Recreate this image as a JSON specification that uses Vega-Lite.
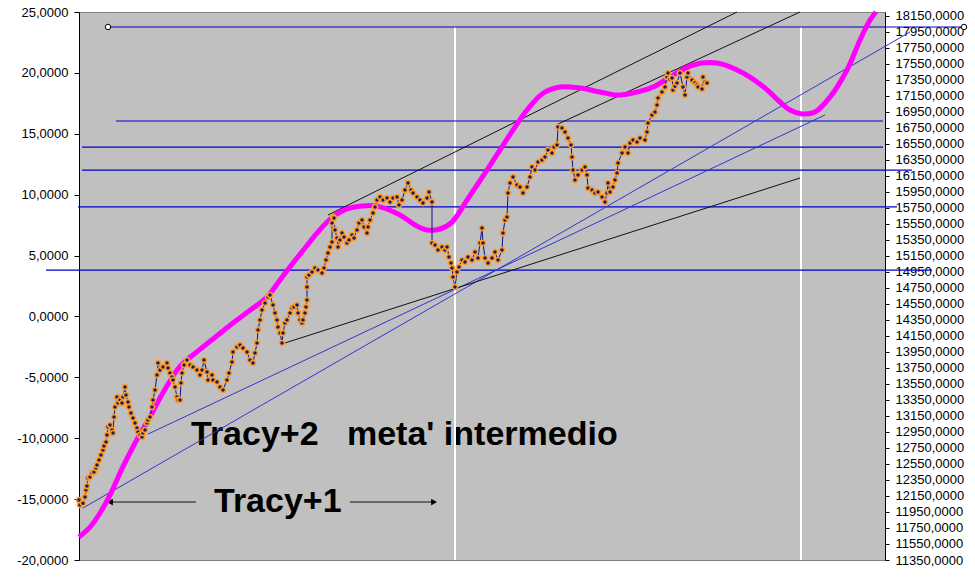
{
"$schema": "https://vega.github.io/schema/vega-lite/v6.json",
"width": 806, "height": 548,
"autosize": {"type": "none"},
"padding": {"left": 79, "top": 12, "right": 90, "bottom": 22},
"background": "white",
"config": {"view": {"fill": "#c0c0c0", "stroke": "#808080", "strokeWidth": 1}},
"datasets": {
"series": [
{"i":0,"t":0,"v":-15.08},{"i":1,"t":1,"v":-15.49},{"i":2,"t":4,"v":-15.33},{"i":3,"t":6,"v":-14.83},{"i":4,"t":7,"v":-14.25},{"i":5,"t":8,"v":-13.93},{"i":6,"t":9,"v":-13.27},{"i":7,"t":11,"v":-13.19},{"i":8,"t":13,"v":-12.86},{"i":9,"t":15,"v":-12.78},{"i":10,"t":17,"v":-12.45},{"i":11,"t":18,"v":-12.2},{"i":12,"t":20,"v":-11.79},{"i":13,"t":22,"v":-11.38},{"i":14,"t":24,"v":-10.97},{"i":15,"t":25,"v":-10.64},{"i":16,"t":27,"v":-10.31},{"i":17,"t":28,"v":-9.74},{"i":18,"t":29,"v":-9.08},{"i":19,"t":31,"v":-8.92},{"i":20,"t":33,"v":-9.33},{"i":21,"t":34,"v":-9.57},{"i":22,"t":35,"v":-8.26},{"i":23,"t":36,"v":-7.44},{"i":24,"t":38,"v":-6.62},{"i":25,"t":39,"v":-7.11},{"i":26,"t":41,"v":-6.86},{"i":27,"t":43,"v":-7.11},{"i":28,"t":44,"v":-6.62},{"i":29,"t":46,"v":-5.8},{"i":30,"t":47,"v":-6.45},{"i":31,"t":49,"v":-7.03},{"i":32,"t":50,"v":-7.44},{"i":33,"t":52,"v":-7.93},{"i":34,"t":54,"v":-8.34},{"i":35,"t":56,"v":-8.75},{"i":36,"t":58,"v":-9.16},{"i":37,"t":59,"v":-9.49},{"i":38,"t":61,"v":-9.74},{"i":39,"t":63,"v":-9.9},{"i":40,"t":64,"v":-9.57},{"i":41,"t":66,"v":-9.33},{"i":42,"t":68,"v":-8.75},{"i":43,"t":69,"v":-8.5},{"i":44,"t":71,"v":-8.26},{"i":45,"t":73,"v":-7.44},{"i":46,"t":74,"v":-6.86},{"i":47,"t":76,"v":-6.04},{"i":48,"t":78,"v":-4.81},{"i":49,"t":79,"v":-3.82},{"i":50,"t":81,"v":-4.4},{"i":51,"t":84,"v":-4.15},{"i":52,"t":88,"v":-3.82},{"i":53,"t":89,"v":-4.23},{"i":54,"t":91,"v":-4.64},{"i":55,"t":93,"v":-4.97},{"i":56,"t":94,"v":-5.22},{"i":57,"t":96,"v":-5.8},{"i":58,"t":98,"v":-6.62},{"i":59,"t":99,"v":-6.86},{"i":60,"t":101,"v":-6.86},{"i":61,"t":102,"v":-5.47},{"i":62,"t":103,"v":-4.64},{"i":63,"t":105,"v":-3.99},{"i":64,"t":108,"v":-3.58},{"i":65,"t":111,"v":-3.99},{"i":66,"t":114,"v":-4.15},{"i":67,"t":118,"v":-4.4},{"i":68,"t":121,"v":-4.81},{"i":69,"t":123,"v":-4.4},{"i":70,"t":125,"v":-3.58},{"i":71,"t":128,"v":-4.56},{"i":72,"t":129,"v":-5.22},{"i":73,"t":133,"v":-4.81},{"i":74,"t":134,"v":-5.22},{"i":75,"t":138,"v":-5.39},{"i":76,"t":141,"v":-5.8},{"i":77,"t":144,"v":-6.04},{"i":78,"t":148,"v":-5.22},{"i":79,"t":150,"v":-4.64},{"i":80,"t":153,"v":-3.74},{"i":81,"t":154,"v":-2.92},{"i":82,"t":158,"v":-2.51},{"i":83,"t":161,"v":-2.35},{"i":84,"t":164,"v":-2.59},{"i":85,"t":168,"v":-2.92},{"i":86,"t":171,"v":-3.58},{"i":87,"t":174,"v":-3.82},{"i":88,"t":176,"v":-3.0},{"i":89,"t":178,"v":-2.18},{"i":90,"t":179,"v":-1.11},{"i":91,"t":181,"v":-0.29},{"i":92,"t":183,"v":0.53},{"i":93,"t":186,"v":1.1},{"i":94,"t":189,"v":1.6},{"i":95,"t":191,"v":1.76},{"i":96,"t":194,"v":0.94},{"i":97,"t":196,"v":0.28},{"i":98,"t":198,"v":-0.29},{"i":99,"t":199,"v":-0.87},{"i":100,"t":201,"v":-1.36},{"i":101,"t":203,"v":-2.18},{"i":102,"t":204,"v":-1.36},{"i":103,"t":206,"v":-0.54},{"i":104,"t":208,"v":-0.29},{"i":105,"t":211,"v":0.28},{"i":106,"t":213,"v":0.69},{"i":107,"t":215,"v":0.78},{"i":108,"t":218,"v":0.94},{"i":109,"t":219,"v":0.28},{"i":110,"t":221,"v":-0.29},{"i":111,"t":223,"v":-0.54},{"i":112,"t":224,"v":-0.29},{"i":113,"t":226,"v":0.28},{"i":114,"t":227,"v":0.78},{"i":115,"t":228,"v":1.35},{"i":116,"t":228,"v":2.42},{"i":117,"t":228,"v":3.24},{"i":118,"t":230,"v":3.4},{"i":119,"t":233,"v":3.65},{"i":120,"t":236,"v":3.98},{"i":121,"t":239,"v":3.81},{"i":122,"t":243,"v":3.57},{"i":123,"t":245,"v":3.98},{"i":124,"t":247,"v":4.63},{"i":125,"t":249,"v":5.21},{"i":126,"t":251,"v":5.7},{"i":127,"t":253,"v":6.11},{"i":128,"t":253,"v":7.67},{"i":129,"t":254,"v":8.17},{"i":130,"t":255,"v":8.09},{"i":131,"t":256,"v":7.1},{"i":132,"t":258,"v":6.44},{"i":133,"t":259,"v":5.7},{"i":134,"t":261,"v":6.28},{"i":135,"t":263,"v":6.85},{"i":136,"t":265,"v":6.52},{"i":137,"t":268,"v":6.03},{"i":138,"t":270,"v":6.28},{"i":139,"t":273,"v":6.69},{"i":140,"t":275,"v":6.44},{"i":141,"t":278,"v":7.1},{"i":142,"t":280,"v":7.67},{"i":143,"t":283,"v":7.92},{"i":144,"t":285,"v":7.34},{"i":145,"t":288,"v":6.85},{"i":146,"t":289,"v":7.34},{"i":147,"t":291,"v":7.92},{"i":148,"t":294,"v":8.49},{"i":149,"t":296,"v":8.99},{"i":150,"t":298,"v":9.56},{"i":151,"t":301,"v":9.81},{"i":152,"t":304,"v":9.56},{"i":153,"t":308,"v":9.72},{"i":154,"t":311,"v":9.4},{"i":155,"t":314,"v":9.72},{"i":156,"t":318,"v":9.81},{"i":157,"t":320,"v":9.15},{"i":158,"t":323,"v":9.56},{"i":159,"t":326,"v":10.38},{"i":160,"t":329,"v":10.96},{"i":161,"t":332,"v":10.38},{"i":162,"t":334,"v":10.14},{"i":163,"t":338,"v":9.81},{"i":164,"t":341,"v":9.56},{"i":165,"t":344,"v":9.31},{"i":166,"t":348,"v":9.72},{"i":167,"t":350,"v":10.22},{"i":168,"t":353,"v":9.4},{"i":169,"t":353,"v":6.03},{"i":170,"t":356,"v":5.87},{"i":171,"t":359,"v":5.45},{"i":172,"t":363,"v":5.7},{"i":173,"t":366,"v":5.45},{"i":174,"t":368,"v":5.7},{"i":175,"t":370,"v":4.88},{"i":176,"t":372,"v":4.39},{"i":177,"t":373,"v":3.98},{"i":178,"t":374,"v":3.24},{"i":179,"t":376,"v":2.42},{"i":180,"t":378,"v":3.65},{"i":181,"t":380,"v":4.06},{"i":182,"t":383,"v":4.63},{"i":183,"t":386,"v":4.47},{"i":184,"t":389,"v":4.88},{"i":185,"t":393,"v":4.63},{"i":186,"t":396,"v":5.29},{"i":187,"t":399,"v":4.8},{"i":188,"t":401,"v":6.03},{"i":189,"t":403,"v":7.26},{"i":190,"t":404,"v":6.03},{"i":191,"t":406,"v":4.8},{"i":192,"t":409,"v":4.39},{"i":193,"t":413,"v":4.8},{"i":194,"t":416,"v":5.29},{"i":195,"t":419,"v":4.63},{"i":196,"t":423,"v":5.45},{"i":197,"t":424,"v":6.85},{"i":198,"t":426,"v":7.92},{"i":199,"t":428,"v":8.17},{"i":200,"t":429,"v":10.14},{"i":201,"t":431,"v":10.96},{"i":202,"t":434,"v":11.45},{"i":203,"t":438,"v":10.79},{"i":204,"t":441,"v":10.63},{"i":205,"t":444,"v":10.14},{"i":206,"t":448,"v":10.63},{"i":207,"t":451,"v":11.45},{"i":208,"t":453,"v":12.27},{"i":209,"t":456,"v":12.02},{"i":210,"t":459,"v":12.68},{"i":211,"t":463,"v":12.85},{"i":212,"t":466,"v":13.09},{"i":213,"t":469,"v":13.67},{"i":214,"t":473,"v":13.42},{"i":215,"t":475,"v":13.91},{"i":216,"t":478,"v":14.08},{"i":217,"t":479,"v":15.56},{"i":218,"t":483,"v":15.47},{"i":219,"t":486,"v":15.15},{"i":220,"t":489,"v":14.65},{"i":221,"t":492,"v":14.08},{"i":222,"t":493,"v":13.09},{"i":223,"t":494,"v":12.02},{"i":224,"t":496,"v":11.2},{"i":225,"t":499,"v":11.61},{"i":226,"t":503,"v":12.02},{"i":227,"t":506,"v":12.27},{"i":228,"t":508,"v":11.61},{"i":229,"t":509,"v":10.55},{"i":230,"t":513,"v":10.38},{"i":231,"t":516,"v":10.14},{"i":232,"t":519,"v":10.22},{"i":233,"t":523,"v":9.81},{"i":234,"t":526,"v":9.4},{"i":235,"t":528,"v":10.14},{"i":236,"t":529,"v":10.96},{"i":237,"t":531,"v":10.22},{"i":238,"t":534,"v":10.63},{"i":239,"t":536,"v":11.2},{"i":240,"t":538,"v":11.78},{"i":241,"t":539,"v":12.6},{"i":242,"t":543,"v":13.42},{"i":243,"t":546,"v":13.91},{"i":244,"t":549,"v":13.42},{"i":245,"t":551,"v":14.24},{"i":246,"t":554,"v":14.49},{"i":247,"t":558,"v":14.32},{"i":248,"t":561,"v":14.65},{"i":249,"t":566,"v":14.49},{"i":250,"t":568,"v":15.15},{"i":251,"t":569,"v":15.88},{"i":252,"t":573,"v":16.54},{"i":253,"t":576,"v":16.79},{"i":254,"t":578,"v":17.36},{"i":255,"t":579,"v":17.94},{"i":256,"t":583,"v":18.43},{"i":257,"t":586,"v":18.84},{"i":258,"t":588,"v":19.66},{"i":259,"t":589,"v":19.99},{"i":260,"t":591,"v":19.5},{"i":261,"t":593,"v":19.58},{"i":262,"t":594,"v":18.59},{"i":263,"t":596,"v":18.9},{"i":264,"t":598,"v":19.17},{"i":265,"t":601,"v":19.99},{"i":266,"t":604,"v":18.84},{"i":267,"t":606,"v":18.18},{"i":268,"t":608,"v":19.66},{"i":269,"t":609,"v":19.99},{"i":270,"t":613,"v":19.42},{"i":271,"t":616,"v":19.2},{"i":272,"t":618,"v":19.01},{"i":273,"t":619,"v":18.84},{"i":274,"t":623,"v":18.68},{"i":275,"t":624,"v":19.66},{"i":276,"t":626,"v":19.25},{"i":277,"t":628,"v":19.17}
],
"wave": [
{"t":0,"v":-18.11},{"t":11,"v":-17.3},{"t":21,"v":-16.14},{"t":32,"v":-14.5},{"t":43,"v":-12.5},{"t":54,"v":-10.72},{"t":62,"v":-9.5},{"t":71,"v":-8.26},{"t":81,"v":-6.7},{"t":91,"v":-5.3},{"t":101,"v":-4.1},{"t":121,"v":-2.7},{"t":137,"v":-1.65},{"t":154,"v":-0.54},{"t":171,"v":0.5},{"t":188,"v":1.6},{"t":201,"v":2.99},{"t":214,"v":4.39},{"t":226,"v":5.62},{"t":238,"v":6.85},{"t":250,"v":7.9},{"t":261,"v":8.58},{"t":273,"v":8.95},{"t":288,"v":9.1},{"t":301,"v":9.0},{"t":321,"v":8.33},{"t":336,"v":7.51},{"t":348,"v":7.1},{"t":361,"v":7.18},{"t":373,"v":7.75},{"t":388,"v":9.56},{"t":408,"v":12.02},{"t":421,"v":13.67},{"t":434,"v":15.31},{"t":448,"v":16.95},{"t":464,"v":18.33},{"t":481,"v":18.84},{"t":501,"v":18.76},{"t":521,"v":18.43},{"t":538,"v":18.18},{"t":554,"v":18.35},{"t":574,"v":18.84},{"t":594,"v":19.82},{"t":614,"v":20.65},{"t":638,"v":20.81},{"t":658,"v":20.24},{"t":671,"v":19.66},{"t":686,"v":18.76},{"t":701,"v":17.61},{"t":711,"v":16.95},{"t":723,"v":16.63},{"t":736,"v":16.79},{"t":751,"v":18.02},{"t":768,"v":20.24},{"t":781,"v":22.7},{"t":791,"v":24.34},{"t":797,"v":25.0}
],
"segs": [
{"kind":"level","t":29,"t2":885,"v":23.77,"v2":23.77},
{"kind":"level","t":37,"t2":804,"v":16.05,"v2":16.05},
{"kind":"level","t":3,"t2":804,"v":13.91,"v2":13.91},
{"kind":"level","t":3,"t2":833,"v":12.02,"v2":12.02},
{"kind":"level","t":-1,"t2":818,"v":8.99,"v2":8.99},
{"kind":"level","t":-33,"t2":853,"v":3.81,"v2":3.81},
{"kind":"trend","t":4,"t2":831,"v":-15.73,"v2":23.36},
{"kind":"trend","t":69,"t2":746,"v":-9.66,"v2":16.54},
{"kind":"channel","t":249,"t2":658,"v":8.33,"v2":25.0},
{"kind":"channel","t":477,"t2":721,"v":15.72,"v2":25.0},
{"kind":"channel","t":203,"t2":721,"v":-2.26,"v2":11.37},
{"kind":"divider","t":376,"t2":376,"v":23.77,"v2":-20},
{"kind":"divider","t":722,"t2":722,"v":23.77,"v2":-20},
{"kind":"arrow","t":117,"t2":28,"v":-15.24,"v2":-15.24},
{"kind":"arrow","t":271,"t2":357,"v":-15.24,"v2":-15.24}
],
"heads": [{"t":31,"v":-15.24,"dir":"left"},{"t":355,"v":-15.24,"dir":"right"}],
"ends": [{"t":29,"v":23.77},{"t":885,"v":23.77}],
"labels": [{"t":112,"v":-10.56,"label":"Tracy+2\u00a0\u00a0\u00a0meta' intermedio"},{"t":135,"v":-16.06,"label":"Tracy+1"}]
},
"layer": [
{"layer": [
{"data": {"name": "labels"},
 "mark": {"type": "text", "align": "left", "baseline": "alphabetic", "font": "Liberation Sans", "fontWeight": "bold", "fontSize": 34, "color": "black"},
 "encoding": {
  "x": {"field": "t", "type": "quantitative", "scale": {"domain": [0, 806], "nice": false, "zero": false}, "axis": null},
  "y": {"field": "v", "type": "quantitative", "scale": {"domain": [-20, 25], "nice": false, "zero": false},
        "axis": {"orient": "left", "title": null, "grid": false, "values": [-20,-15,-10,-5,0,5,10,15,20,25],
                 "labelExpr": "(datum.value < 0 ? '-' : '') + replace(format(abs(datum.value), '.4f'), '.', ',')",
                 "domainColor": "black", "tickColor": "black", "tickSize": 5, "labelPadding": 6,
                 "labelFont": "Liberation Sans", "labelFontSize": 13, "labelColor": "black", "labelOverlap": false, "labelFlush": false}},
  "text": {"field": "label"}}},
{"data": {"name": "segs"}, "transform": [{"filter": "datum.kind == 'divider'"}],
 "mark": {"type": "rule", "color": "white", "strokeWidth": 2},
 "encoding": {"x": {"field": "t", "type": "quantitative", "axis": null}, "x2": {"field": "t2"}, "y": {"field": "v", "type": "quantitative"}, "y2": {"field": "v2"}}},
{"data": {"name": "segs"}, "transform": [{"filter": "datum.kind == 'level'"}],
 "mark": {"type": "rule", "color": "#0000c8", "strokeWidth": 1.2},
 "encoding": {"x": {"field": "t", "type": "quantitative", "axis": null}, "x2": {"field": "t2"}, "y": {"field": "v", "type": "quantitative"}, "y2": {"field": "v2"}}},
{"data": {"name": "segs"}, "transform": [{"filter": "datum.kind == 'trend'"}],
 "mark": {"type": "rule", "color": "#3434d0", "strokeWidth": 1},
 "encoding": {"x": {"field": "t", "type": "quantitative", "axis": null}, "x2": {"field": "t2"}, "y": {"field": "v", "type": "quantitative"}, "y2": {"field": "v2"}}},
{"data": {"name": "segs"}, "transform": [{"filter": "datum.kind == 'channel' || datum.kind == 'arrow'"}],
 "mark": {"type": "rule", "color": "#111111", "strokeWidth": 1},
 "encoding": {"x": {"field": "t", "type": "quantitative", "axis": null}, "x2": {"field": "t2"}, "y": {"field": "v", "type": "quantitative"}, "y2": {"field": "v2"}}},
{"data": {"name": "heads"},
 "mark": {"type": "point", "filled": true, "color": "black", "size": 45, "opacity": 1},
 "encoding": {"x": {"field": "t", "type": "quantitative", "axis": null}, "y": {"field": "v", "type": "quantitative"},
   "shape": {"field": "dir", "type": "nominal", "scale": {"domain": ["left", "right"], "range": ["triangle-left", "triangle-right"]}, "legend": null}}},
{"data": {"name": "ends"},
 "mark": {"type": "point", "filled": true, "fill": "white", "stroke": "black", "strokeWidth": 1, "size": 30, "opacity": 1},
 "encoding": {"x": {"field": "t", "type": "quantitative", "axis": null}, "y": {"field": "v", "type": "quantitative"}}},
{"data": {"name": "wave"},
 "mark": {"type": "line", "color": "#ff00ff", "strokeWidth": 5, "interpolate": "catmull-rom"},
 "encoding": {"x": {"field": "t", "type": "quantitative", "axis": null}, "y": {"field": "v", "type": "quantitative"}}},
{"data": {"name": "series"},
 "mark": {"type": "line", "color": "#101080", "strokeWidth": 1},
 "encoding": {"x": {"field": "t", "type": "quantitative", "axis": null}, "y": {"field": "v", "type": "quantitative"}, "order": {"field": "i", "type": "quantitative"}}},
{"data": {"name": "series"},
 "mark": {"type": "point", "filled": true, "fill": "#1c1c5c", "stroke": "#ff9d2a", "strokeWidth": 1.6, "size": 26, "opacity": 1},
 "encoding": {"x": {"field": "t", "type": "quantitative", "axis": null}, "y": {"field": "v", "type": "quantitative"}}}
]},
{"data": {"values": [{"r": 11350}, {"r": 18194}]},
 "mark": {"type": "point", "opacity": 0},
 "encoding": {
  "y": {"field": "r", "type": "quantitative", "scale": {"domain": [11350, 18194], "nice": false, "zero": false},
        "axis": {"orient": "right", "title": null, "grid": false,
                 "values": [11350,11550,11750,11950,12150,12350,12550,12750,12950,13150,13350,13550,13750,13950,14150,14350,14550,14750,14950,15150,15350,15550,15750,15950,16150,16350,16550,16750,16950,17150,17350,17550,17750,17950,18150],
                 "labelExpr": "replace(format(datum.value, '.4f'), '.', ',')",
                 "domainColor": "black", "tickColor": "black", "tickSize": 4, "labelPadding": 6,
                 "labelFont": "Liberation Sans", "labelFontSize": 13, "labelColor": "black", "labelOverlap": false, "labelFlush": false}}}}
],
"resolve": {"scale": {"y": "independent"}}
}
